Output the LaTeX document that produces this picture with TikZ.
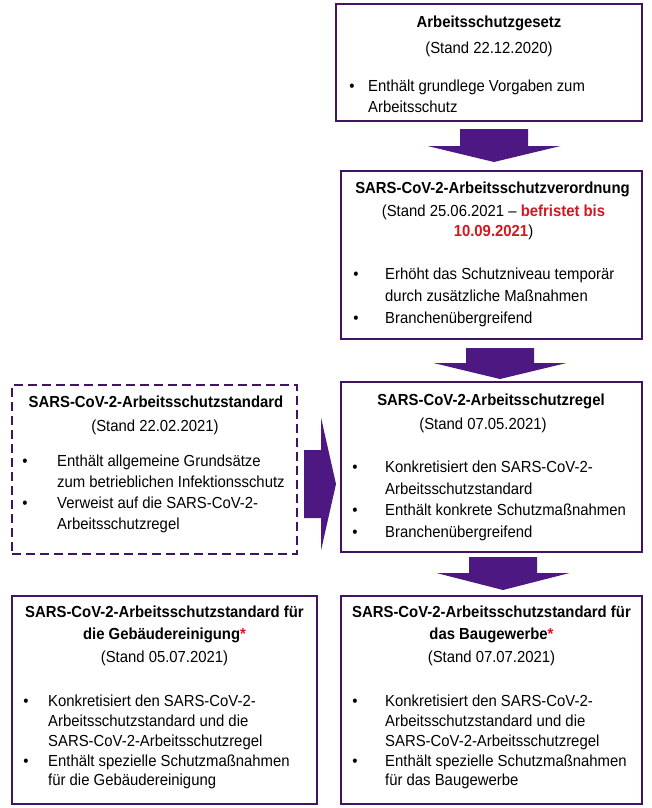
\documentclass[tikz,border=0pt]{standalone}
\usepackage{fontspec}
\setmainfont{Liberation Sans}[FakeStretch=0.93]
\usetikzlibrary{calc}
\definecolor{boxc}{RGB}{64,20,96}
\definecolor{arrc}{RGB}{78,24,130}
\definecolor{redc}{RGB}{210,24,32}
\newcommand\mainsize{\fontsize{16pt}{20pt}\selectfont}
\newcommand\redbf[1]{\textcolor{redc}{\bfseries #1}}
\begin{document}
\begin{tikzpicture}[x=1pt,y=-1pt,
  box/.style={draw=boxc, line width=2pt, inner sep=0pt},
  dbox/.style={box, dash pattern=on 9pt off 5pt},
  ctxt/.style={inner sep=0pt, anchor=base, font=\mainsize},
  ttl/.style={inner sep=0pt, anchor=base, font=\mainsize\bfseries},
  bul/.style={inner sep=0pt, anchor=base, font=\mainsize},
  ltxt/.style={inner sep=0pt, anchor=base west, font=\mainsize},
  arr/.style={fill=arrc}]
\useasboundingbox[fill=white] (0,0) rectangle (651,808);

% boxes
\node[box, minimum width=306pt, minimum height=117pt] (b1) at (489,62.5) {};
\node[box, minimum width=301pt, minimum height=168pt] (b2) at (491.5,255) {};
\node[box, minimum width=301pt, minimum height=170pt] (b3) at (491.5,467) {};
\node[dbox, minimum width=285pt, minimum height=169pt] (b4) at (154.5,469.5) {};
\node[box, minimum width=305pt, minimum height=208pt] (b5) at (164.5,700) {};
\node[box, minimum width=301pt, minimum height=208pt] (b6) at (491.5,700) {};

% box 1
\node[ttl] (t1a) at (489,28) {Arbeitsschutzgesetz};
\node[ctxt] (t1b) at (489,53) {(Stand 22.12.2020)};
\node[bul] (t1c) at (352,92) {•};
\node[ltxt] (t1d) at (368,92) {Enthält grundlege Vorgaben zum};
\node[ltxt] (t1e) at (368,112) {Arbeitsschutz};

% box 2
\node[ttl] (t2a) at (492.5,193) {SARS-CoV-2-Arbeitsschutzverordnung};
\node[ctxt] (t2b) at (493.5,216) {(Stand 25.06.2021 – \redbf{befristet bis}};
\node[ctxt] (t2c) at (493.5,236) {\redbf{10.09.2021})};
\node[bul] (t2d) at (356,279) {•};
\node[ltxt] (t2e) at (385,279) {Erhöht das Schutzniveau temporär};
\node[ltxt] (t2f) at (385,301) {durch zusätzliche Maßnahmen};
\node[bul] (t2g) at (356,323) {•};
\node[ltxt] (t2h) at (385,323) {Branchenübergreifend};

% box 3
\node[ttl] (t3a) at (491,405.5) {SARS-CoV-2-Arbeitsschutzregel};
\node[ctxt] (t3b) at (483,429.5) {(Stand 07.05.2021)};
\node[bul] (t3c) at (355,472) {•};
\node[ltxt] (t3d) at (385,472) {Konkretisiert den SARS-CoV-2-};
\node[ltxt] (t3e) at (385,494) {Arbeitsschutzstandard};
\node[bul] (t3f) at (355,515) {•};
\node[ltxt] (t3g) at (385,515) {Enthält konkrete Schutzmaßnahmen};
\node[bul] (t3h) at (355,537) {•};
\node[ltxt] (t3i) at (385,537) {Branchenübergreifend};

% box 4 (dashed)
\node[ttl] (t4a) at (156,407) {SARS-CoV-2-Arbeitsschutzstandard};
\node[ctxt] (t4b) at (155,431) {(Stand 22.02.2021)};
\node[bul] (t4c) at (25,466) {•};
\node[ltxt] (t4d) at (57,466) {Enthält allgemeine Grundsätze};
\node[ltxt] (t4e) at (57,487) {zum betrieblichen Infektionsschutz};
\node[bul] (t4f) at (25,508) {•};
\node[ltxt] (t4g) at (57,508) {Verweist auf die SARS-CoV-2-};
\node[ltxt] (t4h) at (57,529) {Arbeitsschutzregel};

% box 5
\node[ttl] (t5a) at (164.5,617) {SARS-CoV-2-Arbeitsschutzstandard für};
\node[ttl] (t5b) at (164.5,639) {die Gebäudereinigung\textcolor{redc}{*}};
\node[ctxt] (t5c) at (164.5,662) {(Stand 05.07.2021)};
\node[bul] (t5d) at (26,706) {•};
\node[ltxt] (t5e) at (48,706) {Konkretisiert den SARS-CoV-2-};
\node[ltxt] (t5f) at (48,726) {Arbeitsschutzstandard und die};
\node[ltxt] (t5g) at (48,746) {SARS-CoV-2-Arbeitsschutzregel};
\node[bul] (t5h) at (26,766) {•};
\node[ltxt] (t5i) at (48,766) {Enthält spezielle Schutzmaßnahmen};
\node[ltxt] (t5j) at (48,785) {für die Gebäudereinigung};

% box 6
\node[ttl] (t6a) at (491.5,617) {SARS-CoV-2-Arbeitsschutzstandard für};
\node[ttl] (t6b) at (491.5,639) {das Baugewerbe\textcolor{redc}{*}};
\node[ctxt] (t6c) at (491.5,662) {(Stand 07.07.2021)};
\node[bul] (t6d) at (355,706) {•};
\node[ltxt] (t6e) at (385,706) {Konkretisiert den SARS-CoV-2-};
\node[ltxt] (t6f) at (385,726) {Arbeitsschutzstandard und die};
\node[ltxt] (t6g) at (385,746) {SARS-CoV-2-Arbeitsschutzregel};
\node[bul] (t6h) at (355,766) {•};
\node[ltxt] (t6i) at (385,766) {Enthält spezielle Schutzmaßnahmen};
\node[ltxt] (t6j) at (385,785) {für das Baugewerbe};

% block arrows
\coordinate (a1s) at (494,129);
\coordinate (a1e) at (494,162);
\fill[arr] ($(a1s)+(-34,0)$) -- ($(a1s)+(34,0)$) -- ($(a1e)+(34,-16)$) -- ($(a1e)+(66.5,-16)$) -- (a1e) -- ($(a1e)+(-66.5,-16)$) -- ($(a1e)+(-34,-16)$) -- cycle;

\coordinate (a2s) at (500,348);
\coordinate (a2e) at (500,379);
\fill[arr] ($(a2s)+(-34,0)$) -- ($(a2s)+(34,0)$) -- ($(a2e)+(34,-16)$) -- ($(a2e)+(66.5,-16)$) -- (a2e) -- ($(a2e)+(-66.5,-16)$) -- ($(a2e)+(-34,-16)$) -- cycle;

\coordinate (a3s) at (503,557);
\coordinate (a3e) at (503,590);
\fill[arr] ($(a3s)+(-34,0)$) -- ($(a3s)+(34,0)$) -- ($(a3e)+(34,-17)$) -- ($(a3e)+(66.5,-17)$) -- (a3e) -- ($(a3e)+(-66.5,-17)$) -- ($(a3e)+(-34,-17)$) -- cycle;

\coordinate (a4s) at (304,484);
\coordinate (a4e) at (336,484);
\fill[arr] ($(a4s)+(0,-34)$) -- ($(a4e)+(-15,-34)$) -- ($(a4e)+(-15,-66.5)$) -- (a4e) -- ($(a4e)+(-15,66.5)$) -- ($(a4e)+(-15,34)$) -- ($(a4s)+(0,34)$) -- cycle;
\end{tikzpicture}
\end{document}
